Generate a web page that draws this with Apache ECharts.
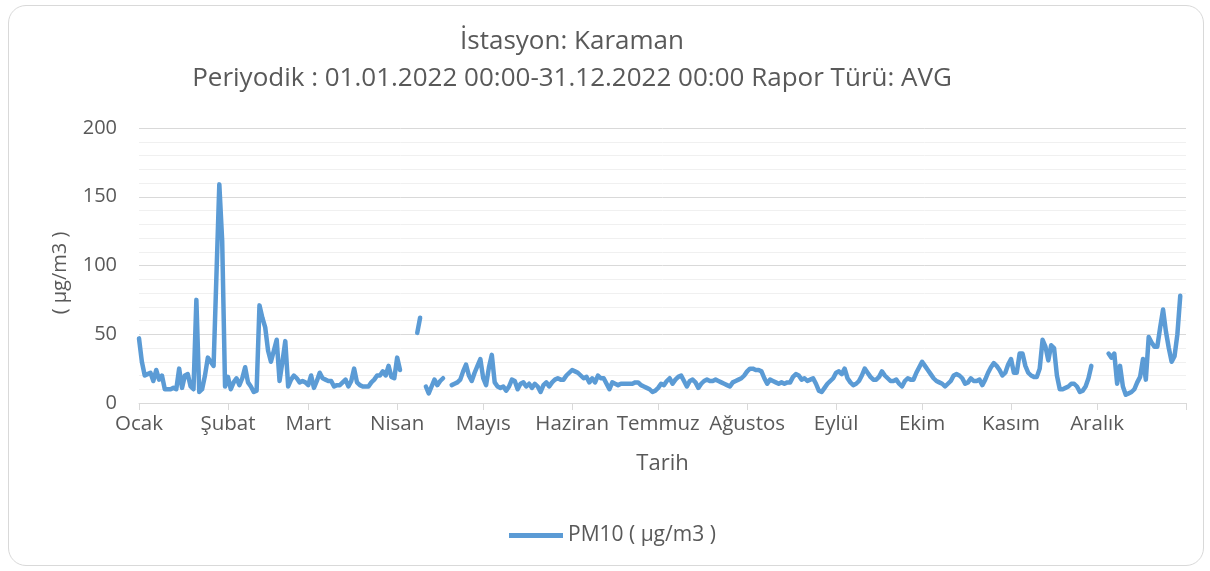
<!DOCTYPE html>
<html>
<head>
<meta charset="utf-8">
<script src="https://cdn.jsdelivr.net/npm/echarts@6/dist/echarts.min.js"></script>
<style>
html,body{margin:0;padding:0;background:#fff;}
#frame{position:absolute;left:8px;top:5px;width:1196px;height:561px;border:1px solid #d9d9d9;border-radius:18px;box-sizing:border-box;}
#chart{position:absolute;left:0;top:0;width:1210px;height:571px;}
</style>
</head>
<body>
<div id="frame"></div>
<div id="chart"></div>
<script>
const titleText = 'İstasyon: Karaman';
const subtitleText = 'Periyodik : 01.01.2022 00:00-31.12.2022 00:00 Rapor Türü: AVG';
const seriesName = 'PM10 ( µg/m3 )';
const yAxisName = '( µg/m3 )';
const xAxisName = 'Tarih';
const monthNames = ['Ocak','Şubat','Mart','Nisan','Mayıs','Haziran','Temmuz','Ağustos','Eylül','Ekim','Kasım','Aralık'];
const yTicks = [0, 50, 100, 150, 200];

// daily PM10 averages per month (null = no data)
const pm10Jan = [47,30,20,21,22,16,24,17,20,10,10,10,11,10,25,11,20,21,12,10,75,8,10,20,33,30,27,93,159,118,12];
const pm10Feb = [19,10,15,18,13,18,26,15,12,8,9,71,62,55,38,30,38,46,16,30,45,12,17,20,18,15,16,15];
const pm10Mar = [13,20,11,16,22,18,17,16,16,12,13,13,15,17,12,16,25,15,13,12,12,12,15,17,20,20,23,20,27,19,18];
const pm10Apr = [33,24,null,null,null,null,null,51,62,null,12,7,12,17,13,16,18,null,null,13,14,15,17,23,28,20,16,22,27,32];
const pm10May = [18,13,26,35,15,12,11,12,9,12,17,16,10,14,15,12,14,11,14,12,8,13,15,12,15,17,18,17,17,20,22];
const pm10Jun = [24,23,22,20,18,19,15,18,15,20,18,18,14,10,15,14,13,14,14,14,14,14,15,15,13,12,11,10,8,9];
const pm10Jul = [11,14,13,16,18,14,17,19,20,16,12,16,17,15,11,14,16,17,16,16,17,16,15,14,13,12,15,16,17,18,20];
const pm10Aug = [23,25,25,24,24,23,18,14,17,16,15,14,15,14,15,15,19,21,20,17,18,16,17,18,14,9,8,11,14,16,18];
const pm10Sep = [22,23,21,25,18,15,13,14,16,20,25,22,19,17,17,19,23,20,18,16,16,17,14,12,16,18,17,17,22,26];
const pm10Oct = [30,27,24,21,18,16,15,14,12,14,16,20,21,20,18,14,15,18,16,16,17,13,17,22,26,29,27,24,20,22,28];
const pm10Nov = [32,22,22,36,36,27,22,20,19,19,25,46,41,31,42,40,20,10,10,11,12,14,14,12,8,9,12,18,27,null];
const pm10Dec = [null,null,null,null,36,33,36,14,27,12,6,7,8,10,15,19,32,17,48,44,41,41,55,68,52,40,30,34,50,78,null];

const values = [].concat(pm10Jan,pm10Feb,pm10Mar,pm10Apr,pm10May,pm10Jun,pm10Jul,pm10Aug,pm10Sep,pm10Oct,pm10Nov,pm10Dec);

// categories: every day of 2022 plus 1 Jan 2023 as the closing axis boundary
const categories = [];
const monthOf = [];
const dayOf = [];
for (let i = 0; i <= 365; i++) {
  const d = new Date(Date.UTC(2022, 0, 1 + i));
  categories.push(d.toISOString().slice(0, 10));
  monthOf.push(d.getUTCMonth());
  dayOf.push(d.getUTCDate());
}

const FONT = '"Open Sans", "DejaVu Sans", sans-serif';
const TXT = '#595959';

const chart = echarts.init(document.getElementById('chart'), null, {renderer: 'canvas'});
chart.setOption({
  animation: false,
  backgroundColor: 'transparent',
  title: [
    {text: titleText, left: 567, top: 24, textAlign: 'center',
     textStyle: {fontFamily: FONT, fontSize: 26, fontWeight: 'normal', color: TXT}},
    {text: subtitleText, left: 567, top: 61, textAlign: 'center',
     textStyle: {fontFamily: FONT, fontSize: 26, fontWeight: 'normal', color: TXT}}
  ],
  legend: {
    bottom: 20, left: 504,
    itemWidth: 54, itemHeight: 5,
    itemGap: 6,
    textStyle: {fontFamily: FONT, fontSize: 21, color: TXT},
    data: [{name: seriesName, icon: 'path://M0,0 L54,0 L54,5 L0,5 Z'}]
  },
  graphic: [{
    type: 'text',
    x: 60, y: 273,
    rotation: Math.PI / 2,
    style: {text: yAxisName, font: '20px "Open Sans", sans-serif', fill: TXT,
            textAlign: 'center', textVerticalAlign: 'middle'}
  }],
  grid: {left: 139, right: 24, top: 128, bottom: 168, containLabel: false},
  xAxis: {
    type: 'category',
    data: categories,
    boundaryGap: false,
    name: xAxisName,
    nameLocation: 'middle',
    nameGap: 50,
    nameTextStyle: {fontFamily: FONT, fontSize: 22, color: TXT},
    axisLine: {lineStyle: {color: '#d9d9d9', width: 1}},
    axisTick: {show: true, length: 7, lineStyle: {color: '#d9d9d9'},
      interval: function (idx) { return dayOf[idx] === 1; }},
    axisLabel: {
      interval: function (idx) { return dayOf[idx] === 1 && idx < 365; },
      formatter: function (v, idx) { return idx >= 365 ? '' : monthNames[monthOf[idx]]; },
      fontFamily: FONT, fontSize: 20.5, color: TXT, margin: 11
    },
    splitLine: {show: false}
  },
  yAxis: {
    type: 'value',
    min: yTicks[0], max: yTicks[yTicks.length - 1], interval: 50,
    axisLine: {show: false},
    axisTick: {show: false},
    axisLabel: {fontFamily: FONT, fontSize: 20, color: TXT, margin: 22},
    splitLine: {show: true, lineStyle: {color: '#d9d9d9', width: 1}},
    minorTick: {show: false, splitNumber: 5},
    minorSplitLine: {show: true, lineStyle: {color: '#f0f0f0', width: 1}}
  },
  series: [{
    name: seriesName,
    type: 'line',
    data: values,
    connectNulls: false,
    showSymbol: false,
    symbol: 'none',
    lineStyle: {color: '#5b9bd5', width: 4.5, cap: 'round', join: 'round'},
    itemStyle: {color: '#5b9bd5'}
  }]
});
</script>
</body>
</html>
